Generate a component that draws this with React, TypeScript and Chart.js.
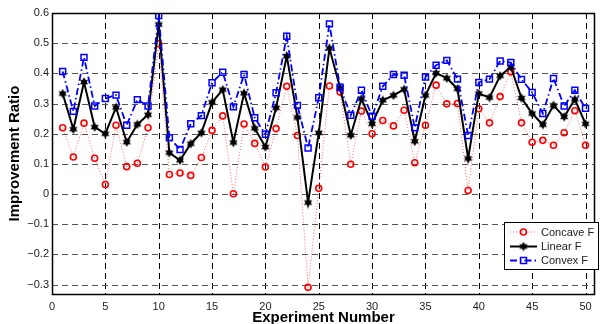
import React, { useEffect, useRef } from "react";
import { Chart, registerables } from "chart.js";

Chart.register(...registerables);

const experiments = [
  1, 2, 3, 4, 5, 6, 7, 8, 9, 10, 11, 12, 13, 14, 15, 16, 17, 18, 19, 20, 21, 22, 23, 24, 25,
  26, 27, 28, 29, 30, 31, 32, 33, 34, 35, 36, 37, 38, 39, 40, 41, 42, 43, 44, 45, 46, 47, 48, 49, 50,
];

const concaveF = [
  0.22, 0.123, 0.235, 0.119, 0.032, 0.228, 0.091, 0.102, 0.22, 0.498,
  0.065, 0.07, 0.062, 0.121, 0.211, 0.259, 0.001, 0.232, 0.168, 0.09,
  0.217, 0.357, 0.194, -0.309, 0.019, 0.358, 0.338, 0.099, 0.275, 0.2,
  0.244, 0.226, 0.278, 0.104, 0.228, 0.361, 0.299, 0.3, 0.012, 0.283,
  0.236, 0.323, 0.405, 0.236, 0.172, 0.178, 0.162, 0.203, 0.276, 0.162,
];

const linearF = [
  0.333, 0.215, 0.371, 0.222, 0.2, 0.287, 0.172, 0.231, 0.263, 0.562,
  0.137, 0.112, 0.167, 0.203, 0.304, 0.346, 0.171, 0.334, 0.218, 0.156,
  0.286, 0.457, 0.254, -0.028, 0.203, 0.483, 0.352, 0.195, 0.316, 0.233,
  0.311, 0.327, 0.347, 0.175, 0.327, 0.401, 0.384, 0.349, 0.118, 0.333,
  0.32, 0.392, 0.421, 0.318, 0.267, 0.23, 0.294, 0.256, 0.314, 0.233,
];

const convexF = [
  0.406, 0.274, 0.453, 0.292, 0.317, 0.328, 0.228, 0.313, 0.292, 0.592,
  0.187, 0.148, 0.233, 0.26, 0.369, 0.404, 0.289, 0.396, 0.253, 0.198,
  0.336, 0.523, 0.294, 0.153, 0.319, 0.564, 0.354, 0.261, 0.344, 0.258,
  0.357, 0.396, 0.394, 0.22, 0.388, 0.427, 0.443, 0.381, 0.194, 0.37,
  0.381, 0.441, 0.436, 0.38, 0.337, 0.267, 0.383, 0.292, 0.344, 0.284,
];

const xTicks = [0, 5, 10, 15, 20, 25, 30, 35, 40, 45, 50];
const yTicks = [-0.3, -0.2, -0.1, 0, 0.1, 0.2, 0.3, 0.4, 0.5, 0.6];

const seriesLabels = ["Concave F", "Linear F", "Convex F"];
const xTitle = "Experiment Number";
const yTitle = "Improvement Ratio";

const FONT = "'Liberation Sans', Arial, Helvetica, sans-serif";

function makeStar(size: number, color: string): HTMLCanvasElement {
  const c = document.createElement("canvas");
  c.width = size;
  c.height = size;
  const ctx = c.getContext("2d")!;
  const cx = size / 2;
  const cy = size / 2;
  const R = size / 2 - 0.3;
  const r = R * 0.58;
  ctx.beginPath();
  for (let k = 0; k < 12; k++) {
    const ang = -Math.PI / 2 + (k * Math.PI) / 6;
    const rad = k % 2 === 0 ? R : r;
    const px = cx + rad * Math.cos(ang);
    const py = cy + rad * Math.sin(ang);
    if (k === 0) ctx.moveTo(px, py);
    else ctx.lineTo(px, py);
  }
  ctx.closePath();
  ctx.fillStyle = color;
  ctx.fill();
  return c;
}

function fmtTick(v: number): string {
  if (Math.abs(v) < 1e-9) return "0";
  const s = v.toFixed(1);
  return s.replace("-", "\u2212");
}

export default function App() {
  const canvasRef = useRef<HTMLCanvasElement | null>(null);

  useEffect(() => {
    const canvas = canvasRef.current;
    if (!canvas) return;
    const star = makeStar(10, "#000000");

    const toPts = (vals: number[]) => experiments.map((x, i) => ({ x, y: vals[i] }));

    const decorPlugin = {
      id: "decor",
      beforeDatasetsDraw(chart: any) {
        const { ctx, chartArea, scales } = chart;
        const xs = scales.x;
        const ys = scales.y;
        ctx.save();
        ctx.lineWidth = 1;
        ctx.setLineDash([6, 4]);
        // vertical grid
        ctx.strokeStyle = "#000000";
        xTicks.forEach((t) => {
          if (t === 0) return;
          const px = Math.round(xs.getPixelForValue(t)) + 0.5;
          ctx.beginPath();
          ctx.moveTo(px, chartArea.top);
          ctx.lineTo(px, chartArea.bottom);
          ctx.stroke();
        });
        // horizontal grid
        ctx.strokeStyle = "#555555";
        yTicks.forEach((t) => {
          if (t >= 0.6) return;
          const py = Math.round(ys.getPixelForValue(t)) + 0.5;
          ctx.beginPath();
          ctx.moveTo(chartArea.left, py);
          ctx.lineTo(chartArea.right, py);
          ctx.stroke();
        });
        ctx.restore();
      },
      afterDraw(chart: any) {
        const { ctx, chartArea } = chart;
        ctx.save();
        // frame
        ctx.setLineDash([]);
        ctx.strokeStyle = "#000000";
        ctx.lineWidth = 1.5;
        ctx.strokeRect(
          Math.round(chartArea.left) + 0.5,
          Math.round(chartArea.top) + 0.5,
          Math.round(chartArea.right - chartArea.left) - 1,
          Math.round(chartArea.bottom - chartArea.top)
        );
        // axis titles
        ctx.fillStyle = "#000000";
        ctx.font = `bold 15px ${FONT}`;
        ctx.textAlign = "center";
        ctx.textBaseline = "middle";
        ctx.fillText(xTitle, (chartArea.left + chartArea.right) / 2, 318);
        ctx.save();
        ctx.translate(15, (chartArea.top + chartArea.bottom) / 2);
        ctx.rotate(-Math.PI / 2);
        ctx.fillText(yTitle, 0, 0);
        ctx.restore();

        // legend
        const bx = 504.5;
        const by = 222.5;
        const bw = 94;
        const bh = 47;
        ctx.fillStyle = "#ffffff";
        ctx.fillRect(bx, by, bw, bh);
        ctx.strokeStyle = "#000000";
        ctx.lineWidth = 1;
        ctx.strokeRect(bx, by, bw, bh);
        const rows = [232, 246.5, 260.5];
        const lx0 = 510;
        const lx1 = 537;
        const mx = 523.5;
        ctx.font = `11px ${FONT}`;
        ctx.textAlign = "left";
        ctx.textBaseline = "middle";
        // concave
        ctx.strokeStyle = "rgba(255,0,0,0.6)";
        ctx.lineWidth = 1;
        ctx.setLineDash([1, 2]);
        ctx.beginPath();
        ctx.moveTo(lx0, rows[0]);
        ctx.lineTo(lx1, rows[0]);
        ctx.stroke();
        ctx.setLineDash([]);
        ctx.strokeStyle = "#ff0000";
        ctx.lineWidth = 1.6;
        ctx.beginPath();
        ctx.arc(mx, rows[0], 3, 0, Math.PI * 2);
        ctx.stroke();
        // linear
        ctx.strokeStyle = "#000000";
        ctx.lineWidth = 2;
        ctx.beginPath();
        ctx.moveTo(lx0, rows[1]);
        ctx.lineTo(lx1, rows[1]);
        ctx.stroke();
        ctx.drawImage(star, mx - 5, rows[1] - 5);
        // convex
        ctx.strokeStyle = "#0000ff";
        ctx.lineWidth = 1.8;
        ctx.setLineDash([7, 3, 1.5, 3]);
        ctx.beginPath();
        ctx.moveTo(lx0, rows[2]);
        ctx.lineTo(lx1, rows[2]);
        ctx.stroke();
        ctx.setLineDash([]);
        ctx.lineWidth = 1.5;
        ctx.strokeRect(mx - 3, rows[2] - 3, 6, 6);
        ctx.fillStyle = "#222222";
        seriesLabels.forEach((lab, i) => ctx.fillText(lab, 541, rows[i] + 0.5));
        ctx.restore();
      },
    };

    const chart = new Chart(canvas, {
      type: "line",
      data: {
        datasets: [
          {
            label: seriesLabels[0],
            data: toPts(concaveF),
            borderColor: "rgba(255,0,0,0.6)",
            borderWidth: 1,
            borderDash: [1, 2],
            pointStyle: "circle",
            pointRadius: 3,
            pointBorderWidth: 1.6,
            pointBorderColor: "#ff0000",
            pointBackgroundColor: "rgba(0,0,0,0)",
            tension: 0,
            order: 2,
          },
          {
            label: seriesLabels[1],
            data: toPts(linearF),
            borderColor: "#000000",
            borderWidth: 2,
            pointStyle: star,
            pointRadius: 5,
            tension: 0,
            order: 1,
          },
          {
            label: seriesLabels[2],
            data: toPts(convexF),
            borderColor: "#0000ff",
            borderWidth: 1.8,
            borderDash: [7, 3, 1.5, 3],
            pointStyle: "rect",
            pointRadius: 4.2,
            pointBorderWidth: 1.5,
            pointBorderColor: "#0000ff",
            pointBackgroundColor: "rgba(0,0,0,0)",
            tension: 0,
            order: 0,
          },
        ],
      },
      options: {
        animation: false,
        responsive: false,
        maintainAspectRatio: false,
        devicePixelRatio: 1,
        layout: { padding: { top: 13, left: 0, right: 0, bottom: 0 } },
        plugins: { legend: { display: false }, tooltip: { enabled: false } },
        scales: {
          x: {
            type: "linear",
            min: 0,
            max: 50.89,
            afterBuildTicks: (s: any) => {
              s.ticks = xTicks.map((v) => ({ value: v }));
            },
            afterFit: (s: any) => {
              s.height = 30;
            },
            grid: { display: false, drawTicks: false },
            border: { display: false },
            ticks: {
              font: { family: FONT, size: 11 },
              color: "#222222",
              padding: 6,
              maxRotation: 0,
              autoSkip: false,
            },
          },
          y: {
            type: "linear",
            min: -0.331,
            max: 0.6,
            afterBuildTicks: (s: any) => {
              s.ticks = yTicks.map((v) => ({ value: v }));
            },
            afterFit: (s: any) => {
              s.width = 52;
            },
            grid: { display: false, drawTicks: false },
            border: { display: false },
            ticks: {
              font: { family: FONT, size: 11 },
              color: "#222222",
              padding: 3,
              autoSkip: false,
              callback: (v: any) => fmtTick(Number(v)),
            },
          },
        },
      },
      plugins: [decorPlugin],
    } as any);

    return () => chart.destroy();
  }, []);

  return (
    <div style={{ position: "fixed", left: 0, top: 0, width: 602, height: 324, background: "#fff" }}>
      <canvas ref={canvasRef} width={602} height={324} style={{ display: "block", width: 602, height: 324 }} />
    </div>
  );
}
